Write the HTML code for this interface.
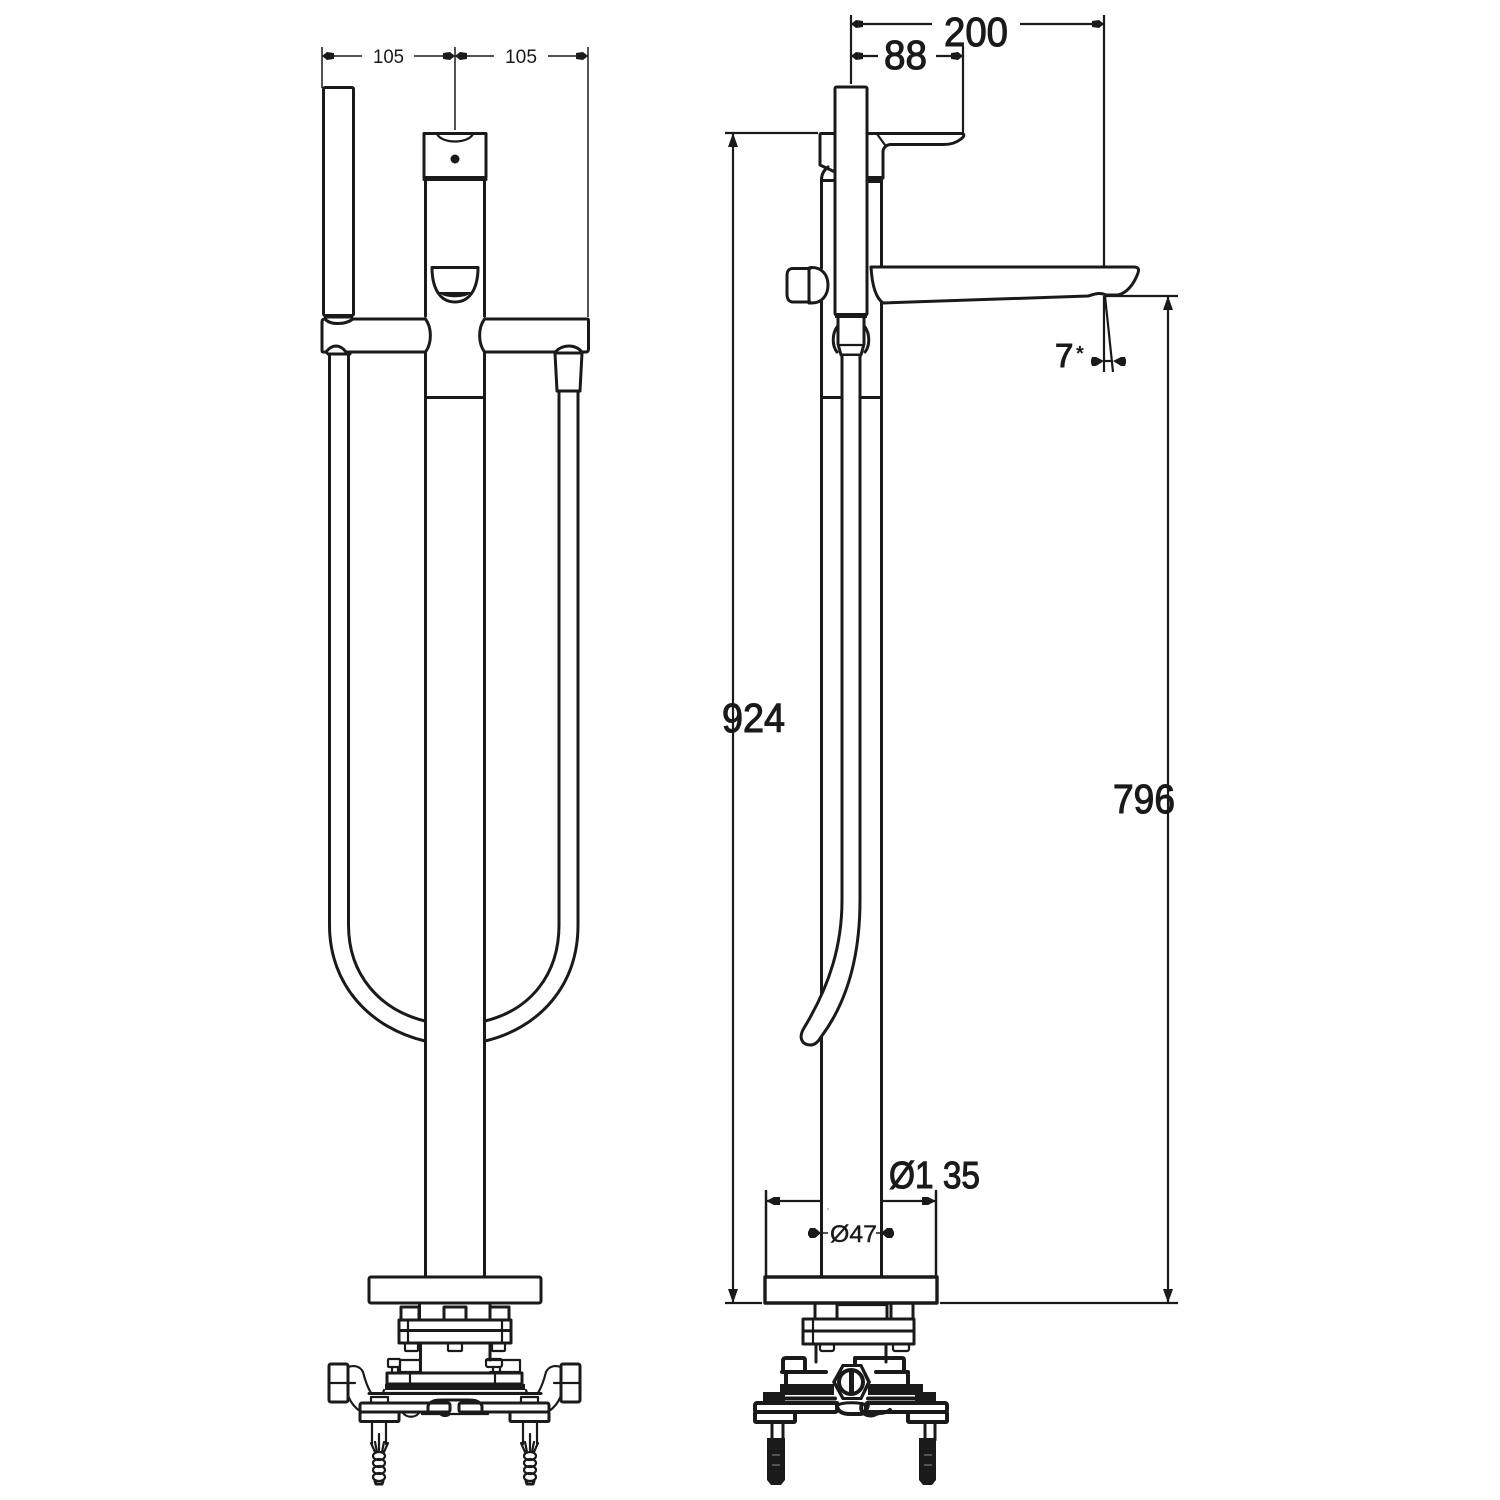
<!DOCTYPE html>
<html>
<head>
<meta charset="utf-8">
<style>
html,body{margin:0;padding:0;background:#fff}
svg{display:block}
text{font-family:"Liberation Sans",sans-serif;fill:#1a1a1a}
.m{fill:none;stroke:#1a1a1a;stroke-width:3;stroke-linejoin:round;stroke-linecap:round}
.h{fill:none;stroke:#1a1a1a;stroke-width:4;stroke-linejoin:round;stroke-linecap:round}
.t{fill:none;stroke:#1a1a1a;stroke-width:2.2;stroke-linejoin:round;stroke-linecap:round}
.d{fill:none;stroke:#1a1a1a;stroke-width:1.5}
.e{fill:none;stroke:#1a1a1a;stroke-width:2.2}
.k{fill:#1a1a1a;stroke:none}
.b{stroke:#1a1a1a;stroke-width:1.1}
</style>
</head>
<body>
<svg width="1500" height="1500" viewBox="0 0 1500 1500" xmlns="http://www.w3.org/2000/svg">
<defs>
<path id="ah" d="M0 0 L5 -4 L12 -3 L12 3 L5 4 Z" class="k"/>
<g id="leftFit">
  <rect x="329" y="1364" width="19" height="38" rx="2" class="m"/>
  <path class="t" d="M329 1383H355"/>
  <path class="t" d="M348 1367C354 1365 360 1366 363 1372C365 1380 368 1388 371 1393"/>
  <path class="t" d="M348 1395C350 1402 354 1407 361 1412"/>
  <rect x="360" y="1403" width="90" height="9" rx="2" class="m"/>
  <rect x="360" y="1412" width="39" height="9.5" rx="1" class="m"/>
  <rect x="371" y="1397" width="17" height="6" class="t"/>
  <path class="t" d="M372 1421.5V1444M386 1421.5V1444M379 1434V1450"/>
  <path class="t" d="M371 1443L375 1452M388 1443L384 1452M375 1442L377 1452M384 1442L382 1452"/>
  <ellipse cx="379" cy="1456" rx="6" ry="4" class="t"/>
  <ellipse cx="379" cy="1463" rx="6" ry="4" class="t"/>
  <ellipse cx="379" cy="1470" rx="6" ry="4" class="t"/>
  <ellipse cx="379" cy="1477" rx="6" ry="4" class="t"/>
  <path class="m" d="M375 1481L376 1484H382L383 1481"/>
</g>
</defs>

<!-- LEFT VIEW dimensions -->
<path class="d" d="M322 47V88M455 47V130M588 47V317"/>
<path class="d" d="M330 56H362M414 56H448M462 56H494M548 56H581"/>
<use href="#ah" transform="translate(322 56)"/>
<use href="#ah" transform="translate(455 56) scale(-1 1)"/>
<use href="#ah" transform="translate(455 56)"/>
<use href="#ah" transform="translate(588 56) scale(-1 1)"/>
<text x="373" y="63" font-size="19.5" textLength="31" lengthAdjust="spacingAndGlyphs">105</text>
<text x="505" y="63" font-size="19.5" textLength="32" lengthAdjust="spacingAndGlyphs">105</text>

<!-- LEFT VIEW hoses -->
<path class="m" d="M329.5 354V925C329.5 985 370 1028 425 1041"/>
<path class="m" d="M348.5 354V925C348.5 975 380 1010 425 1021"/>
<path class="m" d="M578 392V925C578 985 540 1028 485 1041"/>
<path class="m" d="M559 392V925C559 975 530 1010 485 1021"/>

<!-- LEFT VIEW column -->
<path class="m" d="M425.5 180V316M484.5 180V316M425.5 352V1277M484.5 352V1277"/>
<path class="m" d="M425.5 397.5H484.5"/>
<rect x="424" y="133.5" width="62" height="44" class="m"/>
<path class="m" d="M424 179.5H486" stroke-width="3.4"/>
<path class="t" d="M437 134C442 144 468 144 473 134"/>
<circle cx="455" cy="159" r="4.5" class="k"/>
<path class="m" d="M432 267.5H478C478 285 472 302 455 302C438 302 432 285 432 267.5Z"/>
<path class="k" d="M439 292H471C468 299 442 299 439 292Z"/>

<!-- handset -->
<rect x="323.5" y="87.5" width="30" height="228" rx="1.5" class="m"/>
<path d="M324 315H353V318.5H324Z" class="k"/>
<!-- arms -->
<path class="m" d="M353 319H425.5C432 328 432 343 425.5 352H346C340 344 332 344 326 352H323C322 352 322 351 322 349V322C322 320 323 319 325 319C330 325 345 325 353 319Z"/>
<path class="m" d="M326 352L328 354H350L346 352"/>
<path class="m" d="M484.5 319H587.5C588.5 319 588.5 320 588.5 322V349C588.5 351 587.5 352 586 352H582C575 344 563 344 555 352H484.5C478 343 478 328 484.5 319Z"/>
<path class="m" d="M555 353H582L580 391H557Z"/>

<!-- LEFT VIEW base -->
<rect x="369" y="1277" width="172" height="26" rx="2" class="m"/>
<path class="m" d="M419.5 1303V1320M490 1303V1320"/>
<rect x="401" y="1307" width="18" height="13" class="m"/>
<rect x="444" y="1307" width="22" height="13" class="m"/>
<rect x="490" y="1307" width="19" height="13" class="m"/>
<rect x="399" y="1320" width="112" height="23" class="m"/>
<path class="m" d="M399 1330.5H511"/>
<path class="t" d="M408 1320V1343M502 1320V1343"/>
<rect x="405" y="1343" width="13" height="8" rx="1" class="t"/>
<rect x="448" y="1343" width="14" height="8" rx="1" class="t"/>
<rect x="492" y="1343" width="13" height="8" rx="1" class="t"/>
<path class="m" d="M420.5 1343V1372M490 1343V1360"/>
<rect x="388" y="1359" width="12" height="8" rx="1" class="t"/>
<rect x="400" y="1360" width="20" height="12" class="t"/>
<path class="t" d="M392 1367V1373M398 1367V1373"/>
<path class="t" d="M486 1360H520V1372H490"/>
<rect x="486" y="1359" width="16" height="8" rx="2" class="t"/>
<path class="t" d="M493 1367V1373M500 1367V1373"/>
<path class="m" d="M387 1373H522V1384H387Z"/>
<path class="t" d="M410 1373V1384M495 1373V1384"/>
<path class="k" d="M385 1384H525V1390H385Z"/>
<path class="t" d="M384 1390L383 1393H527L526 1390"/>
<path class="m" d="M369 1393.5H541"/>
<path class="m" d="M428 1411V1406C430 1401 435 1400 442 1400H468C475 1400 480 1401 482 1406V1411"/>
<path class="t" d="M422 1414H488"/>
<use href="#leftFit"/>
<use href="#leftFit" transform="matrix(-1 0 0 1 909 0)"/>
<path class="t" d="M403 1413C407 1418 415 1418 419 1413"/>
<path class="k" d="M439 1414H451C449 1418 441 1418 439 1414Z"/>

<!-- RIGHT VIEW dimensions -->
<path class="e" d="M851 15V84M1104 15V266M963 46V133"/>
<path class="e" d="M851 24H932M1020 24H1104M851 56H878M936 56H963"/>
<use href="#ah" transform="translate(851 24)"/>
<use href="#ah" transform="translate(1104 24) scale(-1 1)"/>
<use href="#ah" transform="translate(851 56)"/>
<use href="#ah" transform="translate(963 56) scale(-1 1)"/>
<text class="b" x="944" y="46" font-size="41" textLength="64" lengthAdjust="spacingAndGlyphs">200</text>
<text class="b" x="884" y="69" font-size="41" textLength="43" lengthAdjust="spacingAndGlyphs">88</text>

<path class="e" d="M725 133H818M733 133V1303M725 1303H762"/>
<path class="k" d="M733 133L728 147H738Z"/><path class="k" d="M733 1303L728 1289H738Z"/>
<text class="b" x="722" y="732" font-size="41" textLength="63" lengthAdjust="spacingAndGlyphs">924</text>

<path class="e" d="M1106 296H1178M1168 296V1303M940 1303H1178"/>
<path class="k" d="M1168 296L1163 310H1173Z"/><path class="k" d="M1168 1303L1163 1289H1173Z"/>
<text class="b" x="1113" y="813" font-size="41" textLength="62" lengthAdjust="spacingAndGlyphs">796</text>

<path class="e" d="M1104 296V372M1105 296L1113 372"/>
<path class="e" d="M1104 361H1113"/>
<path class="k" d="M1104 361L1096 357H1092L1091 360V363L1092 366H1096ZM1113 361L1121 357H1125L1126 360V363L1125 366H1121Z"/>
<text class="b" x="1055" y="367" font-size="33">7</text>
<text x="1076" y="360" font-size="20" font-weight="bold">*</text>

<!-- RIGHT VIEW column -->
<path class="m" d="M821.5 180V268M821.5 302V1277M881.5 180V266M881.5 303V1277"/>
<path class="m" d="M822 397.5H842M862 397.5H881"/>
<!-- lever -->
<path class="m" d="M868 133.5H962C965 134 964 137 961 139C956 143 950 144.5 944 144.5H890C886 145 883 148 883 152V178"/>
<path class="t" d="M877 134L885 145"/>
<path class="m" d="M834 133.5H821C820 133.5 820 134 820 135V165L835 172"/>
<path class="m" d="M821.5 180C821.5 174 824 170 828 167"/>
<path class="k" d="M868 176H882V183H868Z"/>
<path class="m" d="M822 180.5H834"/>
<!-- spout -->
<path class="m" d="M871 267H1134C1139 267 1139 270 1138 273C1134 284 1127 293 1118 295H1106C1100 292 1095 294 1088 296L883 303C876 298 872 285 871 267Z"/>
<!-- side knob -->
<path class="m" d="M810 268.5H793C788 268.5 787 272 787 276V294C787 299 789 302 793 302H810"/>
<path class="m" d="M809 268C809 268 809 267.5 812 267.5C822 267.5 828 275 828 285C828 295 822 303 812 303H809V268Z"/>
<!-- handset side -->
<rect x="835" y="87" width="32" height="228" rx="1.5" class="m" style="fill:#fff"/>
<path class="k" d="M835 313H867V318H835Z"/>
<path class="m" d="M838 317V344L841 355H861L864 344V317"/>
<path class="m" d="M837 327C832 334 832 346 837 352M865 327C870 334 870 346 865 352"/>
<path class="t" d="M839 345H863"/>
<!-- hose side -->
<path class="m" style="fill:#fff" d="M842 356V900C842 945 830 985 804 1028C798 1038 802 1045 811 1045C815 1045 818 1042 821 1037C845 1005 860 960 860 900V356"/>

<!-- RIGHT VIEW lower dims -->
<path class="m" d="M766 1191V1277M936 1191V1277" style="stroke-width:2.5"/>
<path class="e" d="M766 1201H821M881 1201H936"/>
<path class="k" d="M766 1201L774 1197L780 1197L780 1205L774 1205Z"/>
<path class="k" d="M936 1201L928 1197L922 1197L922 1205L928 1205Z"/>
<rect x="827.5" y="1208.5" width="1" height="1" class="k"/>
<path class="k" d="M821 1233L815 1228H810L808 1232V1235L810 1238H815Z"/>
<path class="k" d="M881 1233L887 1228H892L894 1232V1235L892 1238H887Z"/>
<path class="d" d="M821 1233H828M876 1233H881"/>
<text x="830" y="1242" font-size="24" textLength="47" lengthAdjust="spacingAndGlyphs" stroke="#1a1a1a" stroke-width=".4">Ø47</text>
<text class="b" x="889" y="1188" font-size="38" textLength="91" lengthAdjust="spacingAndGlyphs">Ø1 35</text>

<!-- RIGHT VIEW base -->
<rect x="765" y="1277" width="172" height="26" class="m" style="stroke-width:3.4"/>
<path class="m" d="M815 1303V1319M837 1303V1319M887 1303V1319M913 1303V1319M891 1303V1319"/>
<path class="t" d="M837 1305H887"/>
<rect x="803" y="1319" width="111" height="25" class="m"/>
<path class="m" d="M803 1331H914"/>
<path class="t" d="M813 1319V1344"/>
<path class="m" d="M816 1344V1362M886 1344V1362"/>
<rect x="820" y="1344" width="14" height="7" rx="2" class="t"/>
<rect x="893" y="1344" width="16" height="7" rx="2" class="t"/>
<path class="h" d="M783 1372V1361C783 1359 784 1358 786 1358H803C805 1358 805 1359 805 1361V1372"/>
<path class="h" d="M855 1363V1358H902C904 1358 904 1359 904 1361V1372"/>
<path class="h" d="M782 1372H826M876 1372H908V1386"/>
<path class="h" d="M786 1372V1386"/>
<path class="k" d="M780 1384H834V1395H780ZM868 1384H923V1395H868Z"/>
<path class="k" d="M763 1392H785V1401H763ZM915 1392H936V1401H915Z"/>
<path class="h" d="M784 1398.5H835M868 1398.5H918"/>
<rect x="755" y="1403" width="82" height="9" rx="2" class="h"/>
<rect x="866" y="1403" width="81" height="9" rx="2" class="h"/>
<rect x="755" y="1412" width="40" height="10" rx="1" class="h"/>
<rect x="908" y="1412" width="39" height="10" rx="1" class="h"/>
<path class="h" d="M837 1403C836 1411 842 1414 850 1414H860C865 1414 868 1408 868 1403"/>
<path class="h" d="M862 1404C858 1414 870 1418 876 1414C880 1412 885 1414 890 1410"/>
<path class="m" d="M772 1422V1440M783 1422V1440M925 1422V1440M935 1422V1440"/>
<path class="k" d="M767 1438H785V1480L781 1485H771L767 1480Z"/>
<path class="k" d="M919 1438H936V1480L932 1485H923L919 1480Z"/>
<path class="d" d="M772 1455H780M772 1465H780M924 1455H932M924 1465H932" style="stroke:#666"/>
<path class="k" d="M832 1382L842 1364H862L871 1382L862 1400H842Z"/>
<path d="M836 1382L844 1367H860L867 1382L860 1397H844Z" fill="#fff" stroke="none"/>
<circle cx="851" cy="1382" r="12" class="m" style="stroke-width:4"/>
<path class="k" d="M849 1371H854V1393H849Z"/>
<path class="m" d="M838 1405C843 1402 860 1402 866 1405"/>
</svg>
</body>
</html>
